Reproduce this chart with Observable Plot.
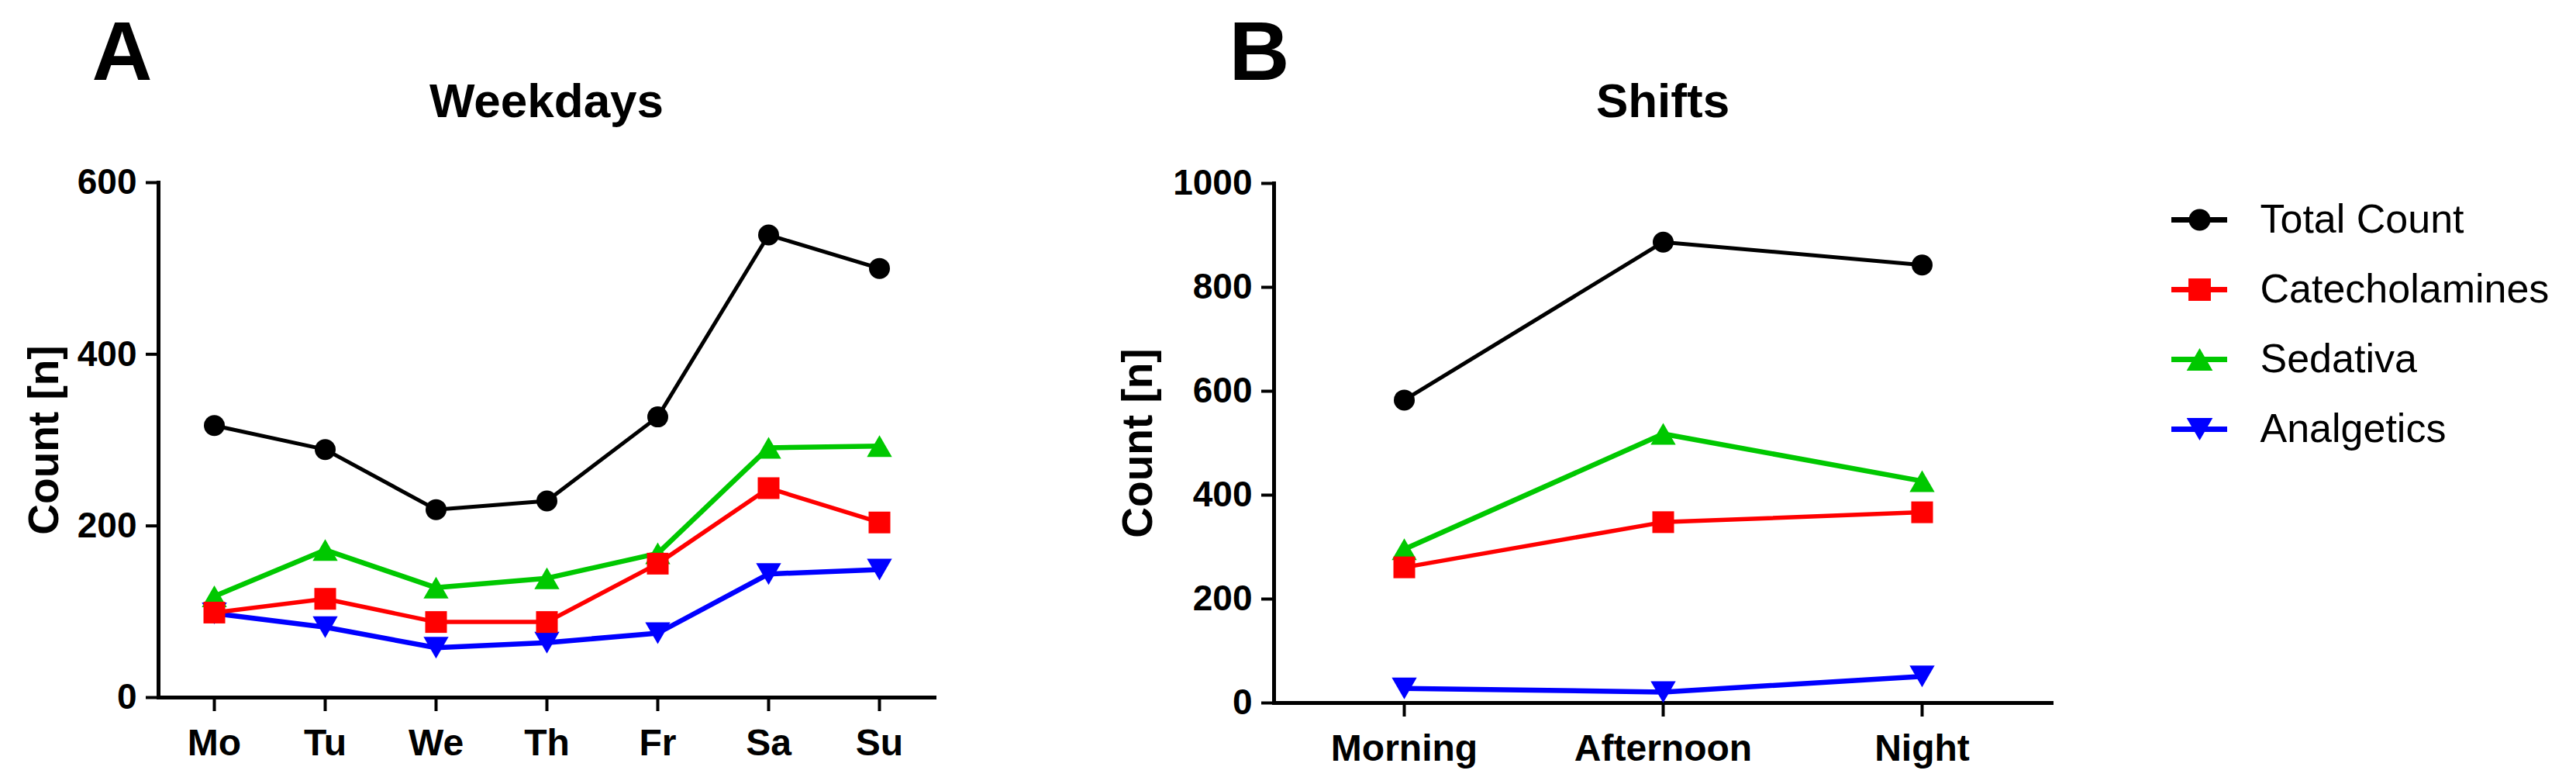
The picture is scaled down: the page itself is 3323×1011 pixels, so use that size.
<!DOCTYPE html>
<html><head><meta charset="utf-8">
<script src="https://cdn.jsdelivr.net/npm/d3@7"></script>
<script src="https://cdn.jsdelivr.net/npm/@observablehq/plot@0.6"></script>
<style>
html,body{margin:0;padding:0;background:#fff;}
#wrap{position:relative;width:3323px;height:1011px;overflow:hidden;background:#fff;}
#wrap svg{position:absolute;top:0;}
</style></head><body><div id="wrap"></div>
<script>
// ---- data ----
const days = ["Mo","Tu","We","Th","Fr","Sa","Su"];
const shifts = ["Morning","Afternoon","Night"];
const seriesNames = ["Total Count","Catecholamines","Sedativa","Analgetics"];
const weekTotal = [317, 289, 219, 229, 327, 539, 500];
const weekCatecholamines = [99, 115, 88, 88, 156, 244, 204];
const weekSedativa = [118, 172, 128, 139, 168, 291, 293];
const weekAnalgetics = [98, 82, 58, 64, 75, 144, 149];
const shiftTotal = [583, 887, 843];
const shiftCatecholamines = [261, 348, 367];
const shiftSedativa = [296, 518, 427];
const shiftAnalgetics = [28, 21, 51];
const weekTicks = [0, 200, 400, 600];
const shiftTicks = [0, 200, 400, 600, 800, 1000];

// ---- styles ----
const triUp = {draw(ctx, size){const s=Math.sqrt(4*size/Math.sqrt(3)), h=s*Math.sqrt(3)/2;
  ctx.moveTo(0,-h/2); ctx.lineTo(s/2,h/2); ctx.lineTo(-s/2,h/2); ctx.closePath();}};
const triDown = {draw(ctx, size){const s=Math.sqrt(4*size/Math.sqrt(3)), h=s*Math.sqrt(3)/2;
  ctx.moveTo(0,h/2); ctx.lineTo(s/2,-h/2); ctx.lineTo(-s/2,-h/2); ctx.closePath();}};
const style = {
  "Total Count":    {color:"#000000", symbol:"circle", r:13.5, width:5},
  "Catecholamines": {color:"#ff0000", symbol:"square", r:15.8, width:5.5},
  "Sedativa":       {color:"#00c800", symbol:triUp,    r:12,   width:6.5},
  "Analgetics":     {color:"#0000ff", symbol:triDown,  r:12,   width:6.5}
};
const drawOrder = ["Total Count","Analgetics","Sedativa","Catecholamines"];
const FONT = "'Liberation Sans', Arial, sans-serif";

function panel(o){
  const rows = [];
  seriesNames.forEach((s,k)=>o.cats.forEach((c,i)=>rows.push({series:s, cat:c, value:o.values[k][i]})));
  const marks = [
    Plot.frame({anchor:"left", strokeWidth:5, strokeLinecap:"square"}),
    Plot.frame({anchor:"bottom", strokeWidth:5, strokeLinecap:"square"}),
    Plot.axisY({ticks:o.ticks, tickFormat:d=>String(d), tickSize:16, tickPadding:12, fontSize:46, fontWeight:"bold", strokeWidth:4, label:null}),
    Plot.axisX({tickSize:18, tickPadding:22, fontSize:48, fontWeight:"bold", strokeWidth:4, label:null}),
    Plot.text(["Count [n]"], {text:d=>d, frameAnchor:"left", textAnchor:"middle", lineAnchor:"middle", rotate:-90, dx:o.yLabelDx, fontSize:55, fontWeight:"bold"}),
    Plot.text([o.title], {text:d=>d, frameAnchor:"top", textAnchor:"middle", dy:o.titleDy, lineAnchor:"bottom", fontSize:62, fontWeight:"bold"}),
    Plot.text([o.letter], {text:d=>d, frameAnchor:"top-left", textAnchor:"start", dx:o.letterDx, dy:o.letterDy, lineAnchor:"bottom", fontSize:108, fontWeight:"bold"})
  ];
  drawOrder.forEach(s=>{
    const st = style[s]; const d = rows.filter(r=>r.series===s);
    marks.push(Plot.line(d, {x:"cat", y:"value", stroke:st.color, strokeWidth:st.width}));
    marks.push(Plot.dot(d, {x:"cat", y:"value", fill:st.color, stroke:"none", symbol:st.symbol, r:st.r}));
  });
  const svg = Plot.plot({
    width:o.width, height:1011,
    marginLeft:o.mL, marginRight:o.mR, marginTop:o.mT, marginBottom:o.mB,
    x:{type:"point", domain:o.cats, padding:0.5},
    y:{domain:[0, o.ticks[o.ticks.length-1]]},
    style:{fontFamily:FONT, background:"transparent", overflow:"visible", color:"#000"},
    marks
  });
  svg.style.left = o.left + "px";
  svg.style.fontWeight = "bold";
  return svg;
}

const wrap = document.getElementById("wrap");
wrap.appendChild(panel({cats:days, values:[weekTotal, weekCatecholamines, weekSedativa, weekAnalgetics],
  ticks:weekTicks, left:0, width:1300, mL:204, mR:95, mT:235, mB:112,
  title:"Weekdays", titleDy:-85, letter:"A", letterDx:-86, letterDy:-133, yLabelDx:-147}));
wrap.appendChild(panel({cats:shifts, values:[shiftTotal, shiftCatecholamines, shiftSedativa, shiftAnalgetics],
  ticks:shiftTicks, left:1300, width:1400, mL:343, mR:54, mT:236, mB:105,
  title:"Shifts", titleDy:-86, letter:"B", letterDx:-58, letterDy:-134, yLabelDx:-175}));

// ---- legend ----
const legMarks = [];
seriesNames.forEach(s=>{
  const st = style[s];
  legMarks.push(Plot.tickY([s], {y:d=>d, stroke:st.color, strokeWidth:7}));
  legMarks.push(Plot.dot([s], {y:d=>d, frameAnchor:"middle", symbol:st.symbol, r:st.r+0.5, fill:st.color, stroke:"none"}));
});
legMarks.push(Plot.text(seriesNames, {y:d=>d, text:d=>d, frameAnchor:"right", dx:42, textAnchor:"start", fontSize:52, fill:"#000"}));
const legend = Plot.plot({
  width:623, height:1011, marginLeft:101, marginRight:450, marginTop:282, marginBottom:457,
  y:{type:"point", domain:seriesNames, padding:0, axis:null},
  style:{fontFamily:FONT, background:"transparent", overflow:"visible"},
  marks:legMarks
});
legend.style.left = "2700px";
wrap.appendChild(legend);
</script></body></html>
